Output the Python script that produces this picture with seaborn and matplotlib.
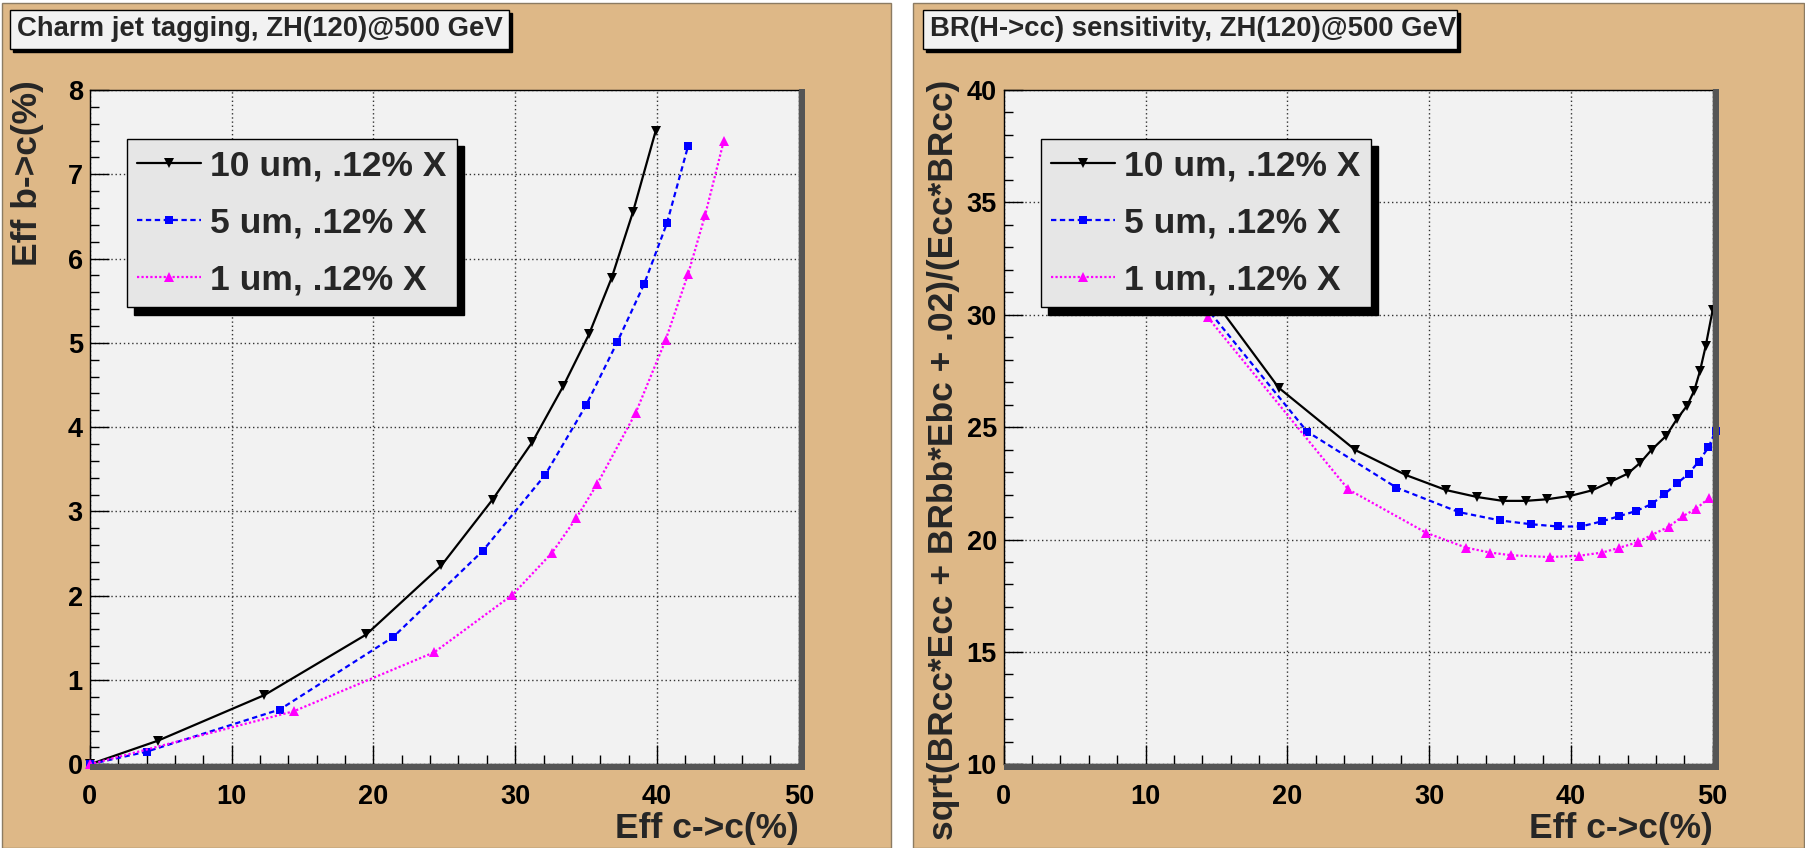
import matplotlib
matplotlib.use('Agg')
import matplotlib.pyplot as plt
import numpy as np
import pandas as pd
import seaborn as sns
from matplotlib.patches import Rectangle
from matplotlib.ticker import MultipleLocator

# ---- data ----
labels = ['10 um, .12% X', '5 um, .12% X', '1 um, .12% X']

# left panel: Eff b->c vs Eff c->c
eff_c_10um = [0, 4.8, 12.3, 19.5, 24.8, 28.4, 31.2, 33.4, 35.2, 36.8, 38.3, 39.9]
eff_b_10um = [0, 0.28, 0.82, 1.54, 2.36, 3.14, 3.82, 4.49, 5.10, 5.77, 6.55, 7.51]
eff_c_5um = [0, 4.0, 13.4, 21.4, 27.7, 32.1, 35.0, 37.2, 39.1, 40.7, 42.2]
eff_b_5um = [0, 0.15, 0.65, 1.51, 2.53, 3.43, 4.26, 5.01, 5.70, 6.42, 7.34]
eff_c_1um = [0, 14.4, 24.3, 29.8, 32.6, 34.3, 35.8, 38.5, 40.6, 42.2, 43.4, 44.7]
eff_b_1um = [0, 0.63, 1.33, 2.01, 2.51, 2.92, 3.33, 4.17, 5.03, 5.82, 6.52, 7.39]

# right panel: sensitivity vs Eff c->c
sens_c_10um = [12.3, 19.4, 24.8, 28.4, 31.2, 33.4, 35.2, 36.8, 38.3, 39.95, 41.5,
               42.8, 44.0, 44.9, 45.7, 46.7, 47.5, 48.2, 48.7, 49.1, 49.5, 50.0]
sens_10um = [32.8, 26.75, 23.98, 22.86, 22.2, 21.89, 21.72, 21.72, 21.79, 21.94, 22.19,
             22.57, 22.93, 23.42, 24.0, 24.6, 25.38, 25.96, 26.63, 27.49, 28.59, 30.22]
sens_c_5um = [13.4, 21.4, 27.7, 32.1, 35.0, 37.2, 39.1, 40.7, 42.2, 43.4, 44.6,
              45.7, 46.6, 47.5, 48.3, 49.0, 49.7, 50.2]
sens_5um = [31.0, 24.8, 22.31, 21.22, 20.85, 20.68, 20.58, 20.58, 20.81, 21.04, 21.27,
            21.58, 22.02, 22.5, 22.93, 23.46, 24.1, 24.82]
sens_c_1um = [14.4, 24.3, 29.8, 32.6, 34.3, 35.8, 38.5, 40.6, 42.2, 43.4, 44.7,
              45.75, 46.9, 47.9, 48.85, 49.75]
sens_1um = [29.88, 22.23, 20.3, 19.64, 19.42, 19.3, 19.22, 19.28, 19.42, 19.63, 19.88,
            20.22, 20.57, 21.04, 21.38, 21.85]

TAN = '#deb887'
FRAME = '#f2f2f2'
styles = [
    dict(color='black', linestyle='-', marker='v', markersize=7),
    dict(color='#0000ff', linestyle=(0, (2.4, 1.6)), marker='s', markersize=6),
    dict(color='#ff00ff', linestyle=(0, (1, 1)), marker='^', markersize=7),
]

sns.set_style('ticks')
plt.rcParams['font.family'] = ['Liberation Sans', 'DejaVu Sans']
plt.rcParams['font.weight'] = 'bold'
plt.rcParams['axes.labelweight'] = 'bold'

W, H = 1805, 848
fig = plt.figure(figsize=(W / 100, H / 100), dpi=100, facecolor='white')


def fx(px):
    return px / W


def fy(py):
    return 1 - py / H


def fig_rect(x0, y0, x1, y1, **kw):
    r = Rectangle((fx(x0), fy(y1)), (x1 - x0) / W, (y1 - y0) / H,
                  transform=fig.transFigure, **kw)
    fig.add_artist(r)
    return r


# the two pads
fig_rect(2, 3, 891, 848, facecolor=TAN, edgecolor='#8c7b62', lw=1, zorder=0)
fig_rect(913, 3, 1804, 848, facecolor=TAN, edgecolor='#8c7b62', lw=1, zorder=0)


def title_box(x0, y0, x1, y1, text):
    fig_rect(x0 + 3, y0 + 3, x1 + 3, y1 + 3, facecolor='black', edgecolor='black', zorder=1)
    fig_rect(x0, y0, x1, y1, facecolor=FRAME, edgecolor='black', lw=1, zorder=2)
    fig.text(fx(x0 + 7), fy(y1 - 12.5), text, fontsize=19.8, fontweight='bold',
             ha='left', va='baseline', zorder=3)


def make_panel(left_px, xs, ys, ylim, ymajor, yminor, ylabel, ylabel_x):
    top, bottom, width = 90, 764.3, 709
    ax = fig.add_axes([fx(left_px), fy(bottom), width / W, (bottom - top) / H])
    ax.set_facecolor(FRAME)
    for x, y, lab, st in zip(xs, ys, labels, styles):
        df = pd.DataFrame({'x': x, 'y': y})
        sns.lineplot(data=df, x='x', y='y', ax=ax, sort=False, estimator=None,
                     label=lab, linewidth=1.6, markeredgewidth=0,
                     clip_on=False, zorder=3, **st)
    ax.set_xlim(0, 50)
    ax.set_ylim(*ylim)
    ax.xaxis.set_major_locator(MultipleLocator(10))
    ax.xaxis.set_minor_locator(MultipleLocator(2))
    ax.yaxis.set_major_locator(MultipleLocator(ymajor))
    ax.yaxis.set_minor_locator(MultipleLocator(yminor))
    ax.grid(True, which='major', linestyle=(0, (1, 2)), color='#333333', lw=1)
    ax.set_axisbelow(True)
    ax.tick_params(which='both', direction='in', top=False, right=False,
                   width=1, colors='black', labelsize=19.5)
    ax.tick_params(which='major', length=13.5)
    ax.tick_params(which='minor', length=6.5)
    ax.tick_params(axis='x', pad=14)
    ax.tick_params(axis='y', pad=5)
    for lbl in ax.get_xticklabels() + ax.get_yticklabels():
        lbl.set_fontweight('bold')
    for s in ax.spines.values():
        s.set_color('black')
        s.set_linewidth(1)

    ax.set_xlabel('Eff c->c(%)', fontsize=25.5, fontweight='bold')
    ax.xaxis.label.set_ha('right')
    ax.xaxis.set_label_coords(1.0, -0.071)
    ax.set_ylabel(ylabel, fontsize=25.5, fontweight='bold')
    ax.yaxis.label.set_ha('right')
    ax.yaxis.label.set_va('center')
    ax.yaxis.set_label_coords((ylabel_x - left_px) / width, 1.0 + 10 / (bottom - top))

    leg = ax.legend(loc='upper left', bbox_to_anchor=(37 / width, 1 - 48.5 / (bottom - top)),
                    borderaxespad=0, fontsize=25.5, fancybox=False,
                    shadow={'ox': 5, 'oy': -5.5, 'color': 'black', 'alpha': 1},
                    edgecolor='black', facecolor='#e6e6e6', framealpha=1,
                    handlelength=1.8, handletextpad=0.25, borderpad=0.3,
                    labelspacing=0.68)
    leg.get_frame().set_linewidth(1)
    for t in leg.get_texts():
        t.set_fontweight('bold')

    # dark bevel of the frame on right and bottom
    right = left_px + width
    fig_rect(right, top - 1, right + 6, bottom + 6, facecolor='#555555', lw=0, zorder=1)
    fig_rect(left_px, bottom, right + 6, bottom + 6, facecolor='#555555', lw=0, zorder=1)
    return ax


make_panel(89.8, [eff_c_10um, eff_c_5um, eff_c_1um], [eff_b_10um, eff_b_5um, eff_b_1um],
           (0, 8), 1, 0.2, 'Eff b->c(%)', 28)
make_panel(1003.7, [sens_c_10um, sens_c_5um, sens_c_1um], [sens_10um, sens_5um, sens_1um],
           (10, 40), 5, 1, 'sqrt(BRcc*Ecc + BRbb*Ebc + .02)/(Ecc*BRcc)', 943)

title_box(10, 10, 509, 49, 'Charm jet tagging, ZH(120)@500 GeV')
title_box(923, 10, 1457, 49, 'BR(H->cc) sensitivity, ZH(120)@500 GeV')

fig.savefig('out.png', dpi=100, facecolor=fig.get_facecolor())
